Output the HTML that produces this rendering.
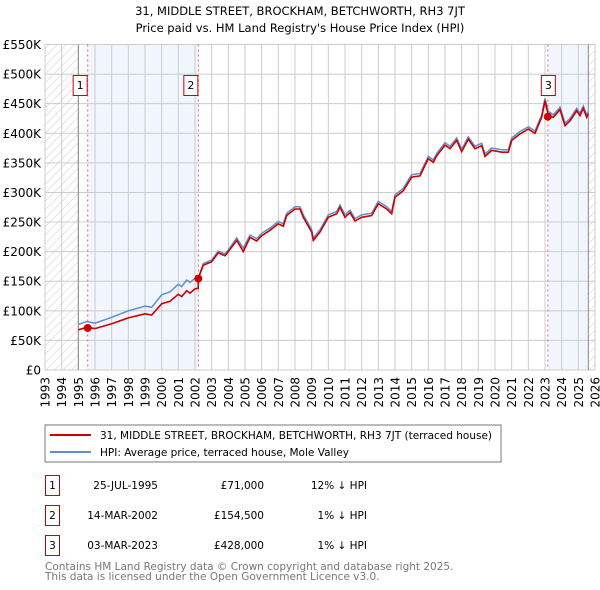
<!DOCTYPE html>
<html><head><meta charset="utf-8"><style>
body{margin:0;background:#fff;}
svg{display:block;font-family:"DejaVu Sans","Liberation Sans",sans-serif;}
</style></head><body>
<svg id="chart" width="600" height="590">
<text x="300" y="15" text-anchor="middle" font-size="11.5">31, MIDDLE STREET, BROCKHAM, BETCHWORTH, RH3 7JT</text>
<text x="300" y="32" text-anchor="middle" font-size="11.5">Price paid vs. HM Land Registry's House Price Index (HPI)</text>
<defs><pattern id="hatch" width="6" height="6" patternUnits="userSpaceOnUse" patternTransform="rotate(45)"><line x1="0" y1="0" x2="0" y2="6" stroke="#ccc" stroke-width="1"/></pattern></defs>
<g id="plot"></g>
<rect x="45" y="425" width="456" height="37" fill="#fff" stroke="#777"/>
<line x1="50" y1="435" x2="91" y2="435" stroke="#cc0000" stroke-width="2"/>
<text x="100" y="439" font-size="10.5">31, MIDDLE STREET, BROCKHAM, BETCHWORTH, RH3 7JT (terraced house)</text>
<line x1="50" y1="452" x2="91" y2="452" stroke="#5b8fd0" stroke-width="2"/>
<text x="100" y="456" font-size="10.5">HPI: Average price, terraced house, Mole Valley</text>
<g font-size="10.5">
<rect x="45.5" y="475.5" width="14" height="20" fill="#fff" stroke="#cc0000"/><text x="52.5" y="489" text-anchor="middle">1</text>
<text x="158" y="489" text-anchor="end">25-JUL-1995</text>
<text x="264" y="489" text-anchor="end">£71,000</text>
<text x="367" y="489" text-anchor="end">12% ↓ HPI</text>
<rect x="45.5" y="505.5" width="14" height="20" fill="#fff" stroke="#cc0000"/><text x="52.5" y="519" text-anchor="middle">2</text>
<text x="158" y="519" text-anchor="end">14-MAR-2002</text>
<text x="264" y="519" text-anchor="end">£154,500</text>
<text x="367" y="519" text-anchor="end">1% ↓ HPI</text>
<rect x="45.5" y="535.5" width="14" height="20" fill="#fff" stroke="#cc0000"/><text x="52.5" y="549" text-anchor="middle">3</text>
<text x="158" y="549" text-anchor="end">03-MAR-2023</text>
<text x="264" y="549" text-anchor="end">£428,000</text>
<text x="367" y="549" text-anchor="end">1% ↓ HPI</text>
</g>
<text x="45" y="570" font-size="10.5" fill="#777">Contains HM Land Registry data © Crown copyright and database right 2025.</text>
<text x="45" y="580" font-size="10.5" fill="#777">This data is licensed under the Open Government Licence v3.0.</text>
</svg>
<script>
const dates=[1995.0,1995.5,1996.0,1997.0,1998.0,1999.0,1999.4,2000.0,2000.5,2001.0,2001.2,2001.5,2001.7,2002.0,2002.19,2002.2,2002.5,2003.0,2003.4,2003.8,2004.0,2004.5,2004.9,2005.3,2005.7,2006.0,2006.5,2007.0,2007.3,2007.5,2008.0,2008.3,2008.5,2009.0,2009.1,2009.5,2010.0,2010.5,2010.7,2011.0,2011.3,2011.6,2012.0,2012.6,2013.0,2013.5,2013.8,2014.0,2014.5,2015.0,2015.5,2016.0,2016.3,2016.5,2017.0,2017.3,2017.7,2018.0,2018.4,2018.8,2019.2,2019.4,2019.8,2020.4,2020.8,2021.0,2021.5,2022.0,2022.4,2022.8,2023.0,2023.2,2023.5,2023.9,2024.2,2024.5,2024.9,2025.1,2025.3,2025.5,2025.6];
const hpiValues=[77,82,79,89,100,108,106,127,132,145,141,152,148,155,156,156,180,186,201,196,203,223,206,228,222,231,240,251,247,265,276,276,262,237,223,237,262,268,279,262,270,256,262,265,285,276,268,296,307,330,332,361,355,366,384,378,392,373,394,378,383,365,375,372,372,392,403,411,404,431,459,437,431,444,417,425,442,434,446,431,437];
const paidValues=[68,72,70,78,88,95,93,112,116,128,124,134,130,137,138,155,177,183,198,193,200,219,200,224,218,227,236,247,243,261,272,272,258,233,219,233,258,264,275,258,266,252,258,261,281,272,264,292,303,326,328,357,351,362,380,374,388,369,390,374,379,361,371,368,368,388,399,407,400,427,455,430,427,440,413,421,438,430,442,427,433];
const saleDates=[1995.56,2002.2,2023.17];
const salePrices=[71,154.5,428];
const saleLabels=["1","2","3"];
const yTicks=[0,50,100,150,200,250,300,350,400,450,500,550];
const yTickLabels=["£0","£50K","£100K","£150K","£200K","£250K","£300K","£350K","£400K","£450K","£500K","£550K"];
const xYears=[1993,1994,1995,1996,1997,1998,1999,2000,2001,2002,2003,2004,2005,2006,2007,2008,2009,2010,2011,2012,2013,2014,2015,2016,2017,2018,2019,2020,2021,2022,2023,2024,2025,2026];

const X0=45,X1=595,Y0=370,Y1=44.5,xMin=1993,xMax=2026,yMax=550;
const xS=v=>X0+(v-xMin)/(xMax-xMin)*(X1-X0);
const yS=v=>Y0-v/yMax*(Y0-Y1);
const NS='http://www.w3.org/2000/svg';
const g=document.getElementById('plot');
function mk(t,a,p){const e=document.createElementNS(NS,t);for(const k in a)e.setAttribute(k,a[k]);(p||g).appendChild(e);return e;}
let e;
e=mk('rect',{x:xS(saleDates[0]),y:Y1,width:xS(saleDates[1])-xS(saleDates[0]),height:Y0-Y1,fill:'#eef3fc',opacity:0.8});


e=mk('rect',{x:xS(saleDates[2]),y:Y1,width:xS(2025.6)-xS(saleDates[2]),height:Y0-Y1,fill:'#eef3fc',opacity:0.8});


yTicks.forEach((t,i)=>{
 e=mk('line',{x1:X0,x2:X1,y1:yS(t),y2:yS(t),stroke:'#ccc','stroke-width':1});
 
 
 e=mk('text',{x:41,y:yS(t)+4.5,'text-anchor':'end','font-size':12});
 e.textContent=yTickLabels[i];
 
 
});
xYears.forEach(yr=>{
 e=mk('line',{x1:xS(yr),x2:xS(yr),y1:Y1,y2:Y0,stroke:'#ccc','stroke-width':1});
 
 
 e=mk('text',{x:0,y:0,'text-anchor':'end','font-size':12,transform:`translate(${xS(yr)+4.5},377) rotate(-90)`});
 e.textContent=yr;
 
 
});
e=mk('rect',{x:X0,y:Y1,width:xS(1995)-X0,height:Y0-Y1,fill:'url(#hatch)'});


e=mk('rect',{x:xS(2025.6),y:Y1,width:X1-xS(2025.6),height:Y0-Y1,fill:'url(#hatch)'});


e=mk('line',{x1:xS(1995),x2:xS(1995),y1:Y1,y2:Y0,stroke:'#888'});


e=mk('line',{x1:xS(2025.6),x2:xS(2025.6),y1:Y1,y2:Y0,stroke:'#888'});


saleDates.forEach((d,i)=>{
 e=mk('line',{x1:xS(d),x2:xS(d),y1:Y1,y2:Y0,stroke:'#e66','stroke-dasharray':'2,3'});
 
 
});
const pts=arr=>arr.map((v,i)=>xS(dates[i]).toFixed(1)+','+yS(v).toFixed(1)).join(' ');
e=mk('polyline',{points:pts(hpiValues),fill:'none',stroke:'#5b8fd0','stroke-width':1.5});


e=mk('polyline',{points:pts(paidValues),fill:'none',stroke:'#cc0000','stroke-width':1.6});


saleDates.forEach((d,i)=>{
 e=mk('circle',{cx:xS(d),cy:yS(salePrices[i]),r:4,fill:'#cc0000'});
 
 
 const bx=xS(d)-(i==2?0:8)-7;
 e=mk('rect',{x:bx+0.5,y:75.5,width:14,height:20,fill:'#fff',stroke:'#cc0000'});
 
 
 e=mk('text',{x:bx+7.5,y:89,'text-anchor':'middle','font-size':11});
 e.textContent=saleLabels[i];
 
 
});
</script>
</body></html>
